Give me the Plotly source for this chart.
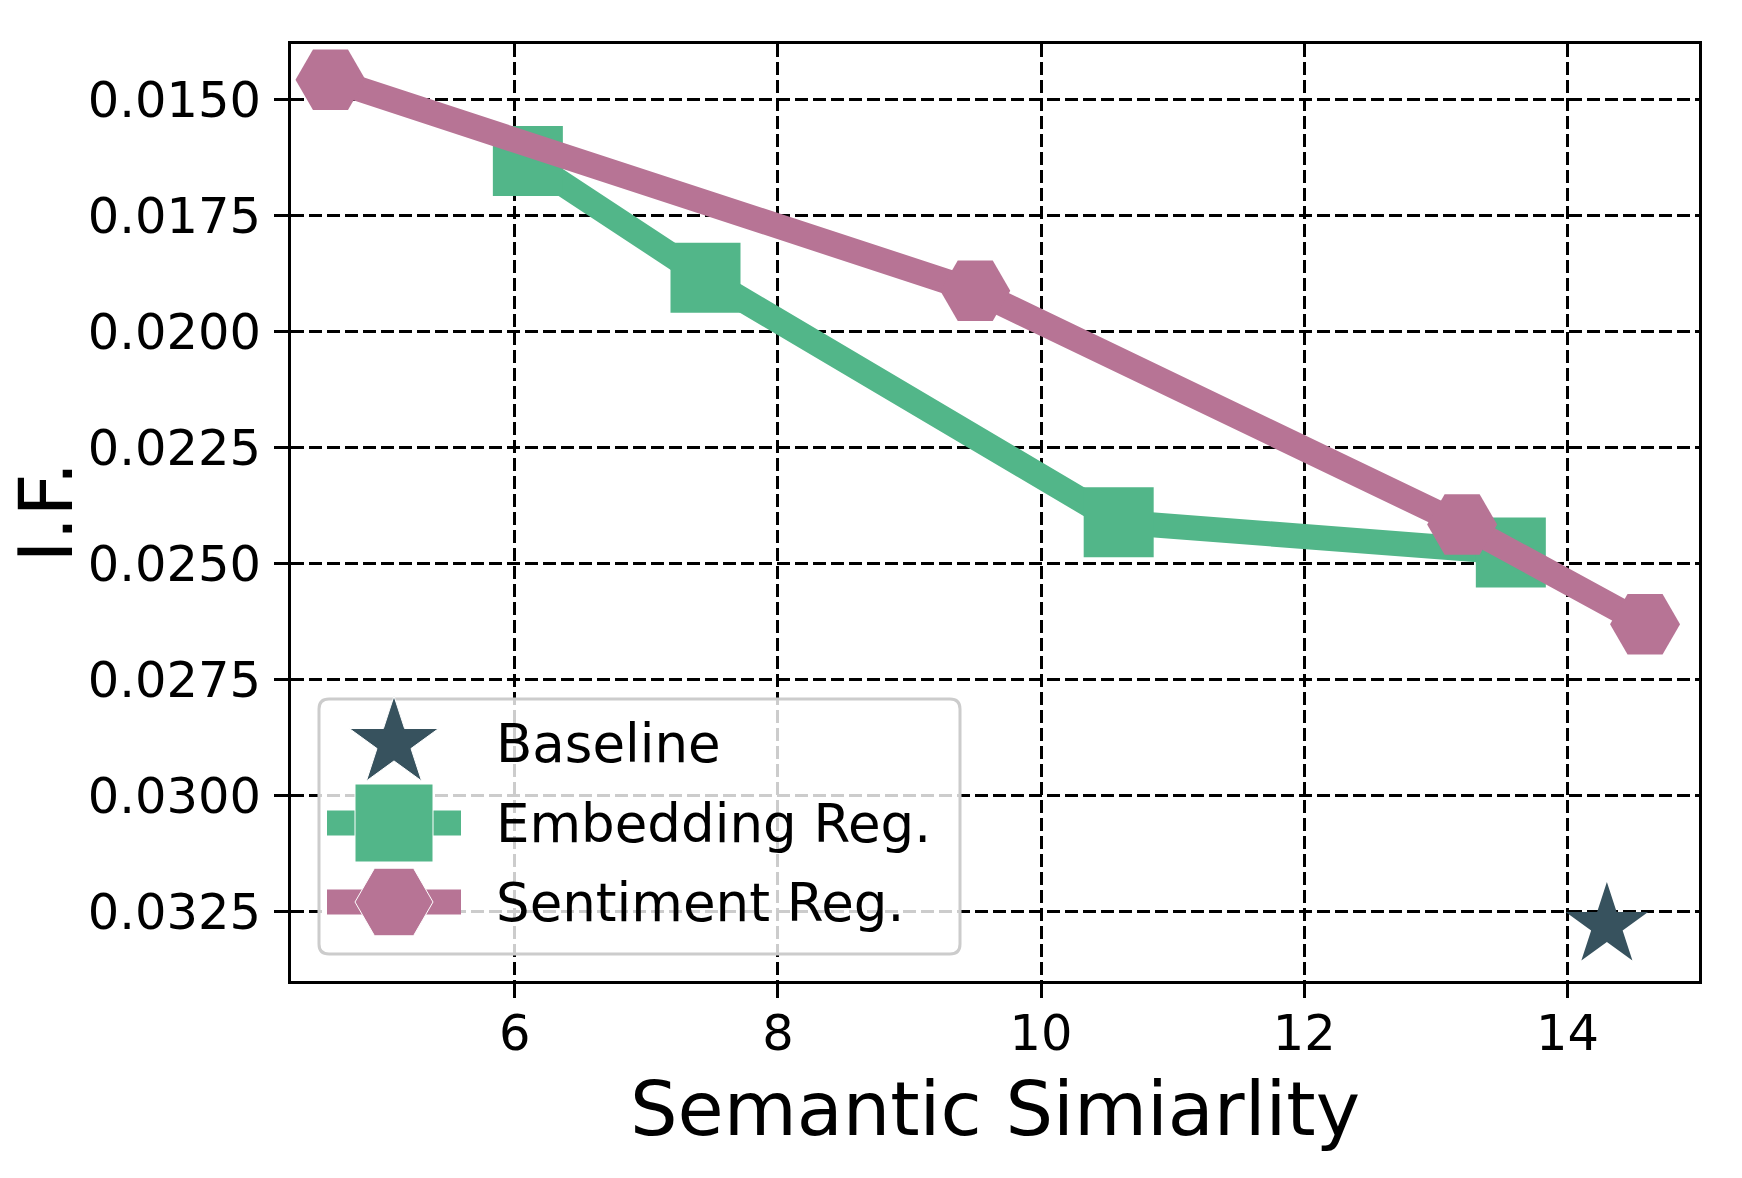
import plotly.graph_objects as go

# ---------------- data ----------------
baseline_x = [14.3]
baseline_y = [0.0328]

embedding_x = [6.10, 7.45, 10.59, 13.57]
embedding_y = [0.01632, 0.01884, 0.02411, 0.02476]

sentiment_x = [4.60, 9.50, 13.20, 14.59]
sentiment_y = [0.01457, 0.01912, 0.02416, 0.02631]

x_ticks = [6, 8, 10, 12, 14]
y_ticks = [0.0150, 0.0175, 0.0200, 0.0225, 0.0250, 0.0275, 0.0300, 0.0325]
y_tick_labels = ["0.0150", "0.0175", "0.0200", "0.0225", "0.0250", "0.0275", "0.0300", "0.0325"]

series_names = ["Baseline", "Embedding Reg.", "Sentiment Reg."]

# ---------------- style ----------------
C_BASE = "#37525E"
C_EMB = "#52B689"
C_SENT = "#B77495"
FONT = "DejaVu Sans"

W, H = 1742, 1178
L, R, T, B = 291, 1699, 44, 981   # plot area in pixels
X_RANGE = [4.30, 15.0]
Y_RANGE = [0.0340, 0.0138]        # reversed axis (bottom value first)


def px2x(px):
    return X_RANGE[0] + (px - L) / (R - L) * (X_RANGE[1] - X_RANGE[0])


def px2y(py):
    return Y_RANGE[0] + (B - py) / (B - T) * (Y_RANGE[1] - Y_RANGE[0])


fig = go.Figure()

fig.add_trace(go.Scatter(x=baseline_x, y=baseline_y, mode="markers", name=series_names[0],
                         marker=dict(symbol="star", size=62, color=C_BASE),
                         showlegend=False, cliponaxis=False))
fig.add_trace(go.Scatter(x=embedding_x, y=embedding_y, mode="lines+markers", name=series_names[1],
                         line=dict(color=C_EMB, width=25),
                         marker=dict(symbol="square", size=70, color=C_EMB),
                         showlegend=False, cliponaxis=False))
fig.add_trace(go.Scatter(x=sentiment_x, y=sentiment_y, mode="lines+markers", name=series_names[2],
                         line=dict(color=C_SENT, width=25),
                         marker=dict(symbol="hexagon2", size=70, color=C_SENT),
                         showlegend=False, cliponaxis=False))

# ---------------- custom legend (large symbols, as in the reference) ----------------
lg_left, lg_right, lg_top, lg_bot, rad = 319, 960, 699, 954, 10
pts = {
    "a": (lg_left + rad, lg_top), "b": (lg_right - rad, lg_top), "c": (lg_right, lg_top), "d": (lg_right, lg_top + rad),
    "e": (lg_right, lg_bot - rad), "f": (lg_right, lg_bot), "g": (lg_right - rad, lg_bot),
    "h": (lg_left + rad, lg_bot), "i": (lg_left, lg_bot), "j": (lg_left, lg_bot - rad),
    "k": (lg_left, lg_top + rad), "l": (lg_left, lg_top),
}
P = {k: f"{px2x(v[0])},{px2y(v[1])}" for k, v in pts.items()}
box_path = (f"M{P['a']} L{P['b']} Q{P['c']} {P['d']} L{P['e']} Q{P['f']} {P['g']} "
            f"L{P['h']} Q{P['i']} {P['j']} L{P['k']} Q{P['l']} {P['a']} Z")
shapes = [dict(type="path", path=box_path, xref="x", yref="y", layer="between",
               fillcolor="rgba(255,255,255,0.8)", line=dict(color="#CCCCCC", width=3))]

row_y = [743, 823, 902]
sym_x = 394
line_x0, line_x1 = 327, 461
text_x = 494
for yy, col in [(row_y[1], C_EMB), (row_y[2], C_SENT)]:
    shapes.append(dict(type="line", xref="x", yref="y", x0=px2x(line_x0), x1=px2x(line_x1),
                       y0=px2y(yy), y1=px2y(yy), layer="between", line=dict(color=col, width=25)))

fig.add_trace(go.Scatter(x=[px2x(sym_x)] * 3, y=[px2y(v) for v in row_y], mode="markers",
                         marker=dict(symbol=["star", "square", "hexagon2"], size=[67, 78, 78],
                                     color=[C_BASE, C_EMB, C_SENT], opacity=1),
                         showlegend=False, hoverinfo="skip", cliponaxis=False))

annotations = []
for yy, name in zip(row_y, series_names):
    annotations.append(dict(x=px2x(text_x), y=px2y(yy), xref="x", yref="y", text=name, showarrow=False,
                            xanchor="left", yanchor="middle",
                            font=dict(family=FONT, size=53, color="black")))

# y-axis title (rotated text placed close to the page edge, as in the reference)
annotations.append(dict(x=(45 - L) / (R - L), y=0.5, xref="paper", yref="paper", text="I.F.",
                        textangle=-90, showarrow=False, xanchor="center", yanchor="middle",
                        font=dict(family=FONT, size=75, color="black")))

axis_common = dict(showline=True, linecolor="black", linewidth=3.3, mirror=True,
                   ticks="outside", ticklen=14, tickwidth=3, tickcolor="black", automargin=False,
                   showgrid=True, gridcolor="black", gridwidth=3, griddash="12.6px,5.4px",
                   zeroline=False, tickfont=dict(family=FONT, size=49.5, color="black"))

fig.update_layout(
    width=W, height=H,
    margin=dict(l=L, r=W - R, t=T, b=H - B, pad=0),
    paper_bgcolor="white", plot_bgcolor="white",
    font=dict(family=FONT, color="black"),
    showlegend=False,
    xaxis=dict(range=X_RANGE, tickvals=x_ticks, ticklabelstandoff=-8, **axis_common,
               title=dict(text="Semantic Simiarlity", font=dict(family=FONT, size=75), standoff=22)),
    yaxis=dict(range=Y_RANGE, tickvals=y_ticks, ticktext=y_tick_labels, ticklabelstandoff=3, **axis_common),
    shapes=shapes,
    annotations=annotations,
)

fig.write_html("out.html")
